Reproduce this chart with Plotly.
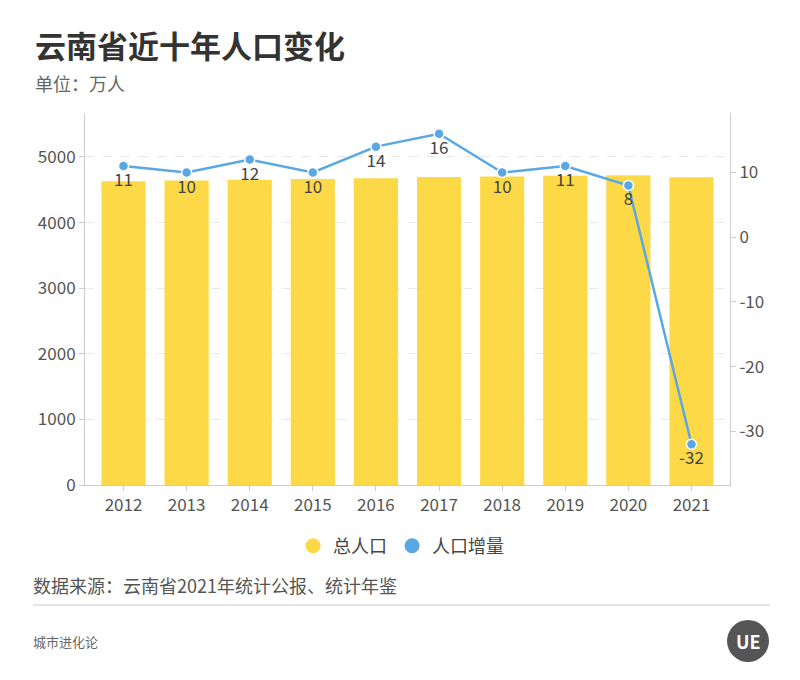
import plotly.graph_objects as go

years = ["2012", "2013", "2014", "2015", "2016", "2017", "2018", "2019", "2020", "2021"]
total_pop = [4631, 4641, 4653, 4663, 4677, 4693, 4703, 4714, 4722, 4690]
pop_change = [11, 10, 12, 10, 14, 16, 10, 11, 8, -32]
left_ticks = [0, 1000, 2000, 3000, 4000, 5000]
right_ticks = [-30, -20, -10, 0, 10]

FONT = "Noto Sans CJK SC, Noto Sans, sans-serif"
YELLOW = "#FDD947"
BLUE = "#5AA8E3"

# plot area on the page: x 85..730, y 113..485 (page has an 8px body margin)
def px(x):
    return (x - 85) / 645

def py(y):
    return (485 - y) / 372

fig = go.Figure()

fig.add_trace(go.Bar(
    x=years, y=total_pop, name="总人口",
    marker=dict(color=YELLOW, line=dict(width=0)),
    yaxis="y", showlegend=False,
))

fig.add_trace(go.Scatter(
    x=years, y=pop_change, name="人口增量",
    mode="lines+markers+text",
    line=dict(color=BLUE, width=2.5),
    marker=dict(color=BLUE, size=10, line=dict(color="white", width=1.5)),
    text=[str(v) for v in pop_change],
    textposition="bottom center",
    textfont=dict(size=17, color="#444444"),
    yaxis="y2", showlegend=False,
))

# legend entries drawn as circles
fig.add_trace(go.Scatter(x=[None], y=[None], name="总人口", mode="markers",
                         marker=dict(color=YELLOW, size=15, symbol="circle")))
fig.add_trace(go.Scatter(x=[None], y=[None], name="人口增量", mode="markers",
                         marker=dict(color=BLUE, size=15, symbol="circle")))

fig.update_layout(
    width=792, height=672,
    paper_bgcolor="white", plot_bgcolor="white",
    font=dict(family=FONT, color="#555555"),
    margin=dict(l=77, r=70, t=105, b=195),
    bargap=0.3,
    showlegend=True,
    legend=dict(
        orientation="h", x=0.49, xanchor="center", y=py(546), yanchor="middle",
        font=dict(size=18, color="#444444"),
        itemwidth=30,
    ),
    xaxis=dict(
        showline=True, linecolor="#cccccc", linewidth=1,
        ticks="outside", tickcolor="#cccccc", ticklen=5,
        tickfont=dict(size=17, color="#555555"),
        showgrid=False,
    ),
    yaxis=dict(
        range=[0, 5670], tickvals=left_ticks,
        showline=True, linecolor="#cccccc", linewidth=1,
        ticks="outside", tickcolor="#cccccc", ticklen=5,
        tickfont=dict(size=17, color="#555555"),
        showgrid=True, gridcolor="#e8e8e8", griddash="dash",
        zeroline=False,
    ),
    yaxis2=dict(
        range=[-38.3, 19.2], tickvals=right_ticks,
        ticktext=[str(v) for v in right_ticks],
        overlaying="y", side="right",
        showline=True, linecolor="#cccccc", linewidth=1,
        ticks="outside", tickcolor="#cccccc", ticklen=5,
        tickfont=dict(size=17, color="#555555"),
        showgrid=False, zeroline=False,
    ),
)

fig.add_annotation(
    text="<b>云南省近十年人口变化</b>", xref="paper", yref="paper",
    x=px(33), y=py(45), xanchor="left", yanchor="middle", showarrow=False,
    font=dict(size=31, color="#333333", family=FONT),
)
fig.add_annotation(
    text="单位：万人", xref="paper", yref="paper",
    x=px(33), y=py(83), xanchor="left", yanchor="middle", showarrow=False,
    font=dict(size=18, color="#666666", family=FONT),
)
fig.add_annotation(
    text="数据来源：云南省2021年统计公报、统计年鉴", xref="paper", yref="paper",
    x=px(31), y=py(585), xanchor="left", yanchor="middle", showarrow=False,
    font=dict(size=18, color="#555555", family=FONT),
)
fig.add_annotation(
    text="城市进化论", xref="paper", yref="paper",
    x=px(31), y=py(641), xanchor="left", yanchor="middle", showarrow=False,
    font=dict(size=13, color="#666666", family=FONT),
)

# divider line and logo badge
fig.add_shape(
    type="line", xref="paper", yref="paper",
    x0=px(33), x1=px(770), y0=py(605), y1=py(605),
    line=dict(color="#dddddd", width=1.5),
)
fig.add_shape(
    type="circle", xref="paper", yref="paper",
    x0=px(727), x1=px(769), y0=py(662), y1=py(620),
    fillcolor="#555555", line=dict(width=0),
)
fig.add_annotation(
    text="<b>UE</b>", xref="paper", yref="paper",
    x=px(748), y=py(641), xanchor="center", yanchor="middle", showarrow=False,
    font=dict(size=18, color="white", family=FONT),
)

fig.write_html("out.html")
